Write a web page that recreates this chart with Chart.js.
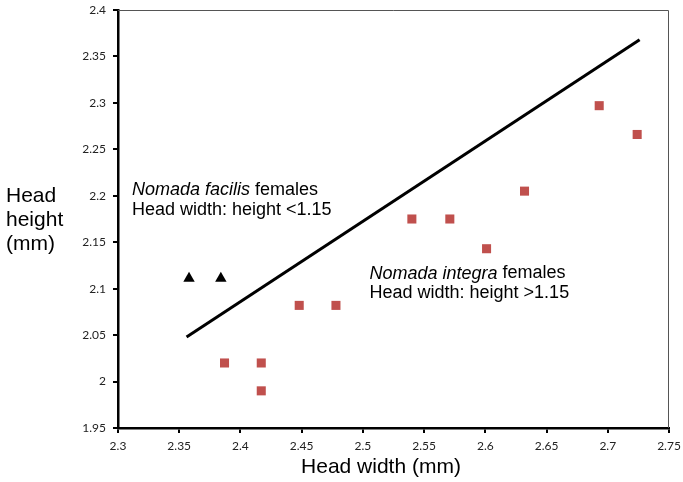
<!DOCTYPE html>
<html>
<head>
<meta charset="utf-8">
<style>
  html, body { margin: 0; padding: 0; background: #fff; }
  #wrap { width: 683px; height: 482px; }
</style>
<script src="https://cdn.jsdelivr.net/npm/chart.js"></script>
</head>
<body>
<div id="wrap"><canvas id="chart" width="683" height="482"></canvas></div>
<script>
// data
const facilisWidth = [2.358, 2.384];
const facilisHeight = [2.111, 2.111];

const integraWidth = [2.387, 2.417, 2.417, 2.448, 2.478, 2.540, 2.571, 2.601, 2.632, 2.693, 2.724];
const integraHeight = [2.020, 2.020, 1.990, 2.082, 2.082, 2.175, 2.175, 2.143, 2.205, 2.297, 2.266];

// dividing line (head width : height = 1.15)
const lineWidth = [2.356, 2.726];
const lineHeight = [2.048, 2.368];

const xTickLabels = ['2.3', '2.35', '2.4', '2.45', '2.5', '2.55', '2.6', '2.65', '2.7', '2.75'];
const yTickLabels = ['1.95', '2', '2.05', '2.1', '2.15', '2.2', '2.25', '2.3', '2.35', '2.4'];

const xTitle = 'Head width (mm)';
const yTitle = ['Head', 'height', '(mm)'];

// text notes, anchored at data coords
const notes = [
  { x: 2.3114, y: 2.206, lines: [['Nomada facilis', ' females'], ['Head width: height <1.15']] },
  { x: 2.5054, y: 2.1163, lines: [['Nomada integra', ' females'], ['Head width: height >1.15']] }
];

function pts(xs, ys) {
  return xs.map((x, i) => ({ x: x, y: ys[i] }));
}

const TXT = '"Liberation Sans", Arial, sans-serif';
const TICKFONT = 'Lato, "Open Sans", sans-serif';

const extras = {
  id: 'extras',
  beforeDatasetsDraw(chart) {
    const a = chart.chartArea;
    const ctx = chart.ctx;
    ctx.save();
    // thin grey frame top/right
    ctx.strokeStyle = '#555';
    ctx.lineWidth = 1;
    ctx.beginPath();
    ctx.moveTo(a.left, a.top + 0.5);
    ctx.lineTo(a.right - 0.5, a.top + 0.5);
    ctx.lineTo(a.right - 0.5, a.bottom);
    ctx.stroke();
    ctx.restore();
  },
  afterDraw(chart) {
    const ctx = chart.ctx;
    const xs = chart.scales.x, ys = chart.scales.y;
    ctx.save();
    ctx.fillStyle = '#000';
    ctx.textBaseline = 'middle';

    // notes
    notes.forEach(n => {
      const px = xs.getPixelForValue(n.x);
      let py = ys.getPixelForValue(n.y);
      n.lines.forEach(parts => {
        let cx = px;
        parts.forEach((t, k) => {
          const italic = parts.length > 1 && k === 0;
          ctx.font = (italic ? 'italic ' : '') + '18px ' + TXT;
          ctx.textAlign = 'left';
          ctx.fillText(t, cx, py);
          cx += ctx.measureText(t).width;
        });
        py += 19.5;
      });
    });

    // y title, horizontal, stacked
    ctx.font = '21px ' + TXT;
    ctx.textAlign = 'left';
    yTitle.forEach((t, i) => ctx.fillText(t, 6, 196 + i * 24));

    // x title
    ctx.textAlign = 'center';
    ctx.fillText(xTitle, 381, 467);
    ctx.restore();
  }
};

function noPad(s) {
  s.paddingLeft = 0;
  s.paddingRight = 0;
  s.paddingTop = 0;
  s.paddingBottom = 0;
}

new Chart(document.getElementById('chart'), {
  type: 'scatter',
  data: {
    datasets: [
      {
        label: 'facilis',
        data: pts(facilisWidth, facilisHeight),
        pointStyle: 'triangle',
        pointRadius: 6.6,
        backgroundColor: '#000',
        borderColor: '#000',
        borderWidth: 0
      },
      {
        label: 'integra',
        data: pts(integraWidth, integraHeight),
        pointStyle: 'rect',
        pointRadius: 6.4,
        backgroundColor: '#C0504D',
        borderColor: '#C0504D',
        borderWidth: 0
      },
      {
        type: 'line',
        label: 'ratio 1.15',
        data: pts(lineWidth, lineHeight),
        borderColor: '#000',
        borderWidth: 3,
        pointRadius: 0,
        fill: false
      }
    ]
  },
  options: {
    responsive: false,
    animation: false,
    layout: { padding: { top: 10, right: 14, left: 0, bottom: 0 } },
    plugins: {
      legend: { display: false },
      tooltip: { enabled: false }
    },
    scales: {
      x: {
        type: 'linear',
        min: 2.3,
        max: 2.75,
        afterFit(s) { s.height = 54; noPad(s); },
        afterBuildTicks(s) {
          s.ticks = xTickLabels.map(v => ({ value: parseFloat(v) }));
        },
        ticks: {
          callback: (v, i) => xTickLabels[i],
          font: { family: TICKFONT, size: 12 },
          color: '#222',
          padding: 6,
          maxRotation: 0,
          autoSkip: false
        },
        grid: { drawOnChartArea: false, drawTicks: true, tickLength: 5, color: '#000', lineWidth: 2 },
        border: { color: '#000', width: 2.5 }
      },
      y: {
        type: 'linear',
        min: 1.95,
        max: 2.4,
        afterFit(s) { s.width = 118; noPad(s); },
        afterBuildTicks(s) {
          s.ticks = yTickLabels.map(v => ({ value: parseFloat(v) }));
        },
        ticks: {
          callback: (v, i) => yTickLabels[i],
          font: { family: TICKFONT, size: 12 },
          color: '#222',
          padding: 7,
          autoSkip: false
        },
        grid: { drawOnChartArea: false, drawTicks: true, tickLength: 5, color: '#000', lineWidth: 2 },
        border: { color: '#000', width: 2.5 }
      }
    }
  },
  plugins: [extras]
});
</script>
</body>
</html>
